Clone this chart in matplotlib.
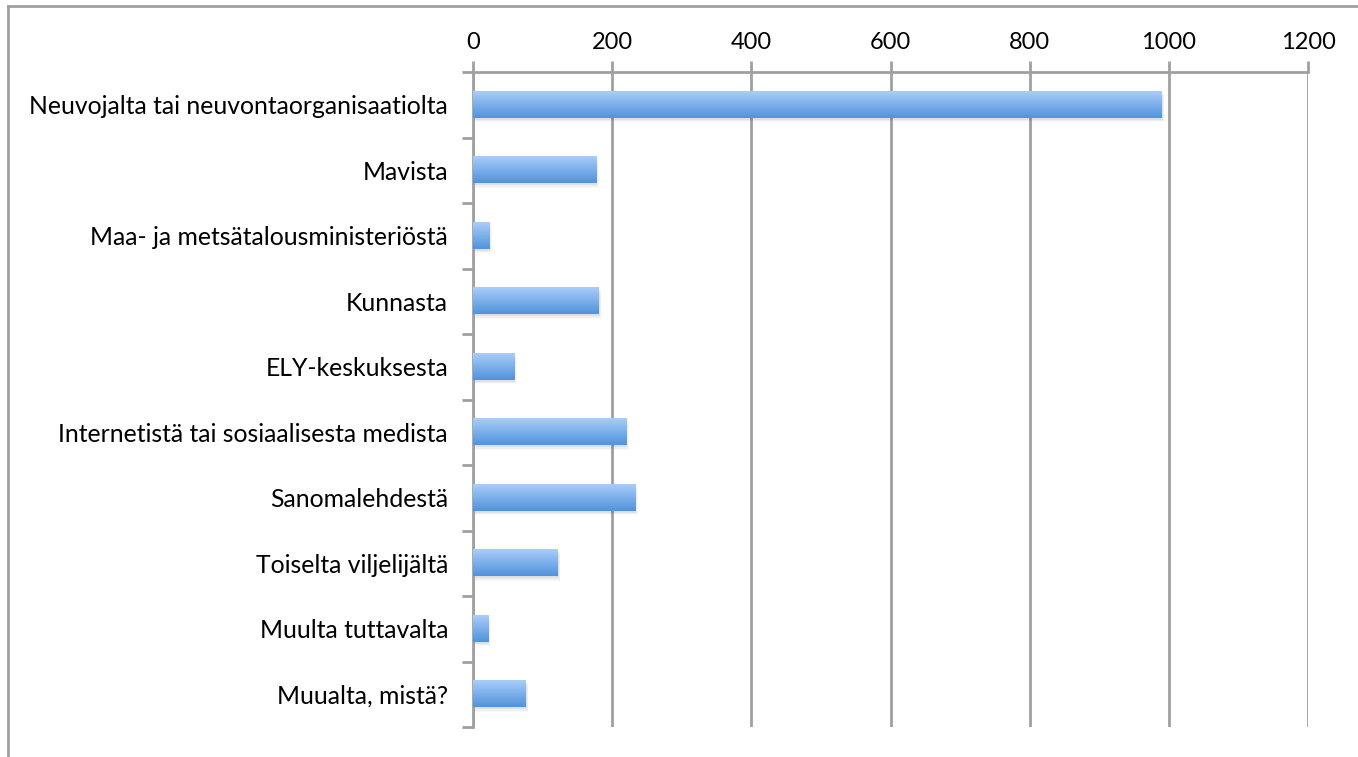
import numpy as np
import matplotlib.pyplot as plt
from matplotlib.lines import Line2D

plt.rcParams['font.family'] = ['Lato', 'DejaVu Sans']

# data
categories = ['Neuvojalta tai neuvontaorganisaatiolta', 'Mavista',
              'Maa- ja metsätalousministeriöstä', 'Kunnasta', 'ELY-keskuksesta',
              'Internetistä tai sosiaalisesta medista', 'Sanomalehdestä',
              'Toiselta viljelijältä', 'Muulta tuttavalta', 'Muualta, mistä?']
values = [990, 177, 23, 181, 59, 220, 233, 122, 22, 76]
xticks = [0, 200, 400, 600, 800, 1000, 1200]

fig = plt.figure(figsize=(13.58, 7.57), dpi=100)
ax = fig.add_axes([473/1358, 1-727/757, (1308-473)/1358, (727-72)/757])

# outer frame (only top and left visible)
grey = '#a0a0a0'
fig.add_artist(Line2D([8/1358, 1], [1-6/757, 1-6/757], color=grey, lw=2, transform=fig.transFigure))
fig.add_artist(Line2D([8/1358, 8/1358], [0, 1-6/757], color=grey, lw=2, transform=fig.transFigure))

# gradient bars with soft shadow
grad = np.linspace(0, 1, 64).reshape(-1, 1)
cmap = plt.matplotlib.colors.LinearSegmentedColormap.from_list('g', ['#a9cdf9', '#5193dc'])
h = 0.4
for i, v in enumerate(values):
    for k, a in enumerate([0.06, 0.04, 0.025]):
        d = (k + 1) * 0.02
        ax.add_patch(plt.Rectangle((0, i - h/2 + d + 0.01), v + (k + 1) * 1.2, h, color='#000000',
                                   alpha=a, lw=0, zorder=2))
    ax.imshow(grad, extent=(0, v, i + h/2, i - h/2), aspect='auto', cmap=cmap,
              zorder=3, interpolation='bilinear')
ax.set_xlim(0, 1200)
ax.set_ylim(len(categories) - 0.5, -0.5)

ax.set_yticks(np.arange(len(categories)))
ax.set_yticklabels(categories)
ax.set_yticks(np.arange(len(categories) + 1) - 0.5, minor=True)
ax.tick_params(axis='y', which='major', length=0, pad=18, labelsize=17.8)
ax.tick_params(axis='y', which='minor', length=8, width=2, color=grey)

ax.xaxis.tick_top()
ax.set_xticks(xticks)
ax.tick_params(axis='x', length=8, width=2, color=grey, labelsize=17, pad=6)
ax.grid(axis='x', color=grey, lw=2, zorder=1)
ax.set_axisbelow(True)

for s in ['right', 'bottom']:
    ax.spines[s].set_visible(False)
for s in ['top', 'left']:
    ax.spines[s].set_color(grey)
    ax.spines[s].set_linewidth(2)

fig.savefig('out.png', dpi=100)
